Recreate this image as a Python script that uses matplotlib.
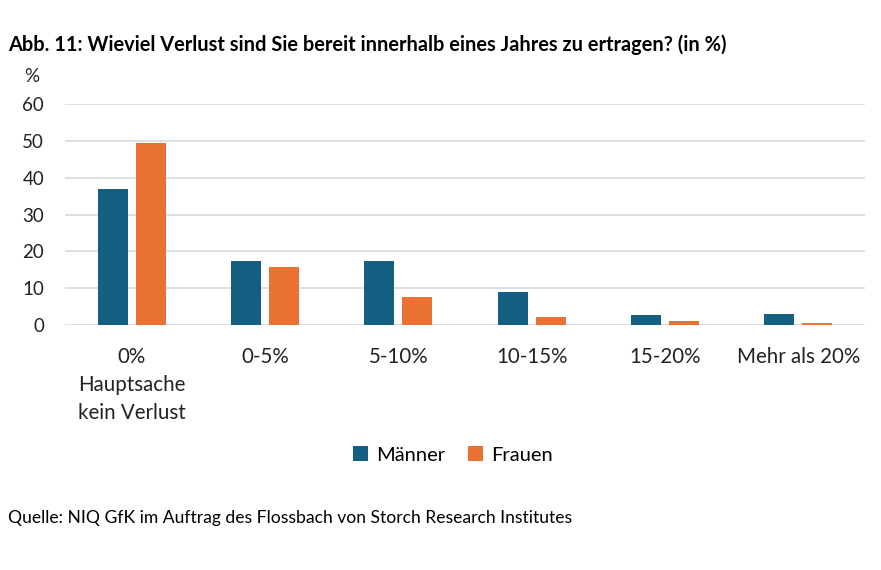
import matplotlib
matplotlib.use("Agg")
import matplotlib.pyplot as plt
import numpy as np

categories = ["0%\nHauptsache\nkein Verlust", "0-5%", "5-10%", "10-15%", "15-20%", "Mehr als 20%"]
maenner = [36.8, 17.3, 17.3, 9.0, 2.7, 2.9]
frauen = [49.3, 15.7, 7.5, 2.1, 1.0, 0.5]
yticks = [0, 10, 20, 30, 40, 50, 60]

plt.rcParams['font.family'] = ['Lato', 'DejaVu Sans']

fig = plt.figure(figsize=(8.81, 5.70), dpi=100)
ax = fig.add_axes([65/881, 1-325/570, 800/881, (325-104)/570])

x = np.arange(len(categories))
w = 0.225
off = 0.143
blue = "#156082"
orange = "#E97132"
ax.bar(x - off, maenner, w, color=blue, label="Männer", zorder=3)
ax.bar(x + off, frauen, w, color=orange, label="Frauen", zorder=3)

ax.set_xlim(-0.5, len(categories) - 0.5)
ax.set_ylim(0, 60)
ax.set_yticks(yticks)
ax.set_yticklabels([str(t) for t in yticks], fontsize=13.5, color="#222222")
ax.set_xticks(x)
ax.set_xticklabels(categories, fontsize=14.8, color="#222222", linespacing=1.5)
ax.tick_params(axis='both', length=0)
ax.tick_params(axis='x', pad=16)
ax.tick_params(axis='y', pad=15)
ax.yaxis.grid(True, color="#d9d9d9", linewidth=1.2, zorder=0)
for s in ax.spines.values():
    s.set_visible(False)

fig.text(8/881, 1-45/570, "Abb. 11: Wieviel Verlust sind Sie bereit innerhalb eines Jahres zu ertragen? (in %)",
         fontsize=14.4, fontweight='bold', va='center', ha='left', color="#000000")
fig.text(32/881, 1-77/570, "%", fontsize=13.5, va='center', ha='center', color="#222222")
fig.text(8/881, 1-518/570, "Quelle: NIQ GfK im Auftrag des Flossbach von Storch Research Institutes",
         fontsize=12.6, va='center', ha='left', color="#000000")

fig.legend(loc='center', bbox_to_anchor=(453/881, 1-455/570), ncol=2, frameon=False,
           fontsize=14.5, handlelength=0.75, handleheight=0.75, handletextpad=0.4, columnspacing=1.1)

fig.savefig("out.png", dpi=100, facecolor="white")
